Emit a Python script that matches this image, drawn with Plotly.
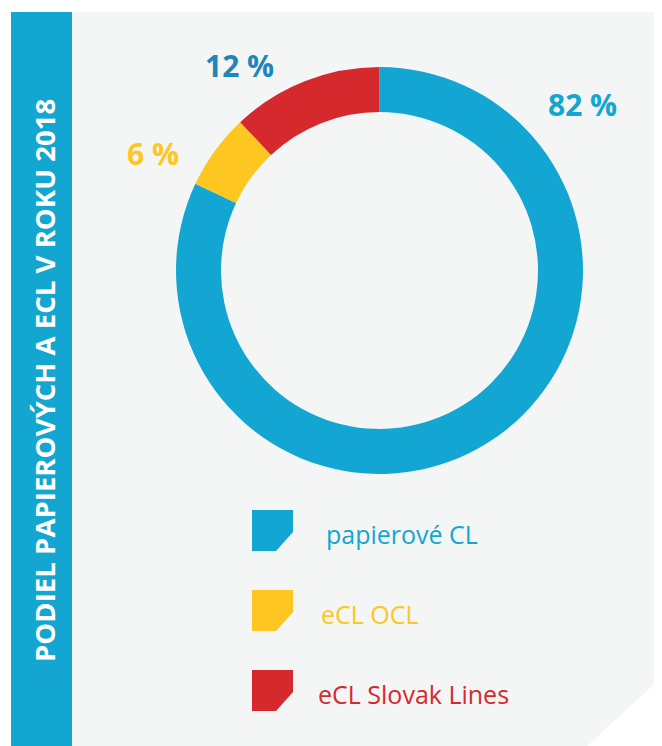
import plotly.graph_objects as go

# page body has an 8px margin, so the figure is drawn 8px in from the window edge
OFF = 8
W, H = 662 - OFF, 746 - OFF

# data
labels = ["papierové CL", "eCL OCL", "eCL Slovak Lines"]
shares = [82, 6, 12]
colors = ["#13A6D2", "#FEC620", "#D6292E"]
pct_colors = ["#13A6D2", "#FEC620", "#1E86B8"]
title = "PODIEL PAPIEROVÝCH A ECL V ROKU 2018"


# window pixel -> paper fraction
def px(x):
    return (x - OFF) / W


def py(y):
    return 1 - (y - OFF) / H


def path(points):
    return "M " + " L ".join(f"{px(x):.5f},{py(y):.5f}" for x, y in points) + " Z"


fig = go.Figure()

# donut: center (379.5, 270.5), outer r 203.5
cx, cy, r = 379.5, 270.5, 203.5
fig.add_trace(go.Pie(
    labels=labels,
    values=shares,
    sort=False,
    direction="clockwise",
    rotation=0,
    hole=158.5 / 203.5,
    marker=dict(colors=colors, line=dict(width=0)),
    textinfo="none",
    hoverinfo="skip",
    showlegend=False,
    domain=dict(x=[px(cx - r), px(cx + r)], y=[py(cy + r), py(cy - r)]),
))

shapes = [
    # grey panel with cut corner
    dict(type="path", xref="paper", yref="paper", layer="below",
         path=path([(72, 12), (662, 12), (662, 677), (587, 746), (72, 746)]),
         fillcolor="#F4F5F5", line=dict(width=0)),
    # blue side bar
    dict(type="rect", xref="paper", yref="paper", layer="below",
         x0=px(11), x1=px(72), y0=py(746), y1=py(12),
         fillcolor="#12A6D1", line=dict(width=0)),
]

annotations = [
    dict(text=f"<b>{title}</b>", x=px(44), y=py(381), xref="paper", yref="paper",
         textangle=-90, showarrow=False, xanchor="center", yanchor="middle",
         font=dict(family="Open Sans", size=27.6, color="white")),
]

# percentage labels
pct_pos = [(582, 104), (153, 153), (239, 66)]
for v, c, (x, y) in zip(shares, pct_colors, pct_pos):
    annotations.append(dict(
        text=f"<b>{v} %</b>", x=px(x), y=py(y), xref="paper", yref="paper",
        showarrow=False, xanchor="center", yanchor="middle",
        font=dict(family="Open Sans", size=30, color=c)))

# legend with cut-corner squares
rows = [(530.5, 324), (610.5, 319), (690.5, 316)]
for lab, c, (y, tx) in zip(labels, colors, rows):
    x0, x1 = 252, 293
    y0, y1 = y - 20.5, y + 20.5
    shapes.append(dict(
        type="path", xref="paper", yref="paper",
        path=path([(x0, y0), (x1, y0), (x1, y1 - 19), (x1 - 17, y1), (x0, y1)]),
        fillcolor=c, line=dict(width=0)))
    annotations.append(dict(
        text=lab, x=px(tx), y=py(y + 3), xref="paper", yref="paper",
        showarrow=False, xanchor="left", yanchor="middle",
        font=dict(family="Open Sans", size=25, color=c)))

fig.update_layout(
    width=W, height=H, autosize=False,
    margin=dict(l=0, r=0, t=0, b=0),
    paper_bgcolor="white",
    plot_bgcolor="white",
    shapes=shapes,
    annotations=annotations,
)

fig.write_html("out.html")
